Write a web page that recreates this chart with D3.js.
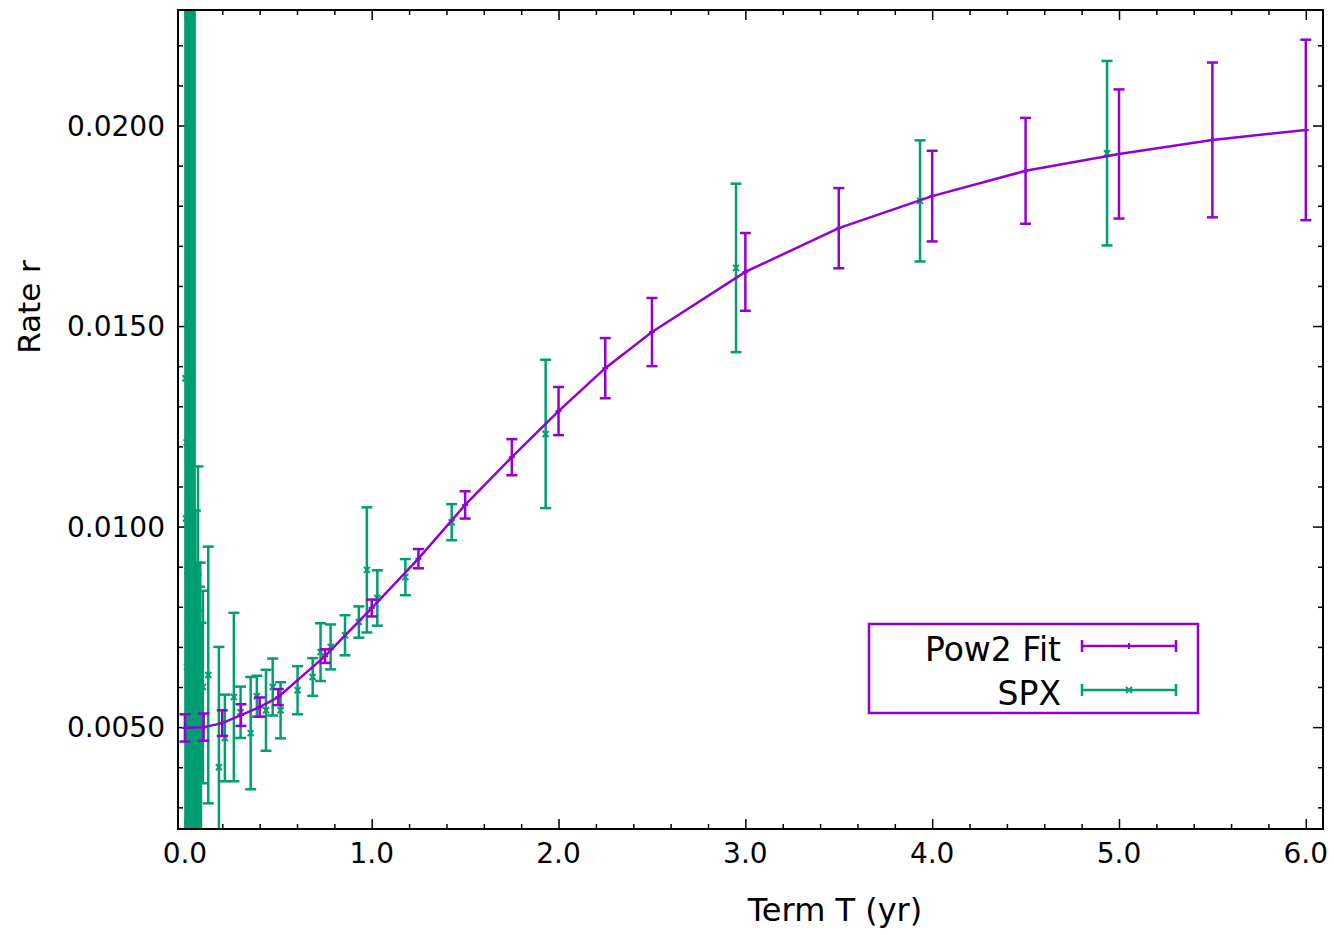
<!DOCTYPE html>
<html lang="en">
<head>
    <meta charset="UTF-8">
    <title>Term structure of rates</title>
    <script src="https://d3js.org/d3.v7.min.js"></script>
    <style>
        body { margin: 0; background: white; }
        text { font-family: "DejaVu Sans", "Liberation Sans", sans-serif; fill: black; }
    </style>
</head>
<body>
    <script>
        // Pow2 fit points (term in years, rate, error)
        var fitT = [0, 0.1, 0.2, 0.3, 0.4, 0.5, 0.75, 1.0, 1.25, 1.5, 1.75, 2.0, 2.25, 2.5, 3.0, 3.5, 4.0, 4.5, 5.0, 5.5, 6.0];
        var fitR = [0.00498, 0.0050, 0.0051, 0.0053, 0.0055, 0.00575, 0.00677, 0.00797, 0.0092, 0.01054, 0.01173, 0.01288,
                    0.01395, 0.01485, 0.01635, 0.01744, 0.01824, 0.01887, 0.01929, 0.01964, 0.01989];
        var fitErr = [0.00034, 0.00034, 0.00032, 0.00027, 0.00024, 0.0002, 0.00017, 0.00021, 0.00024, 0.00034, 0.00045, 0.0006,
                      0.00075, 0.00085, 0.00097, 0.001, 0.00113, 0.00132, 0.00161, 0.00193, 0.00225];

        // SPX implied rates
        var spxT = [0.003, 0.006, 0.009, 0.011, 0.014, 0.017, 0.019, 0.022, 0.025, 0.028, 0.030, 0.033, 0.036, 0.038, 0.041, 0.044,
                    0.047, 0.052, 0.056, 0.060, 0.063, 0.067, 0.070, 0.074, 0.078, 0.082, 0.086, 0.096, 0.125,
                    0.182, 0.214, 0.262, 0.298, 0.352, 0.385, 0.434, 0.470, 0.512, 0.603, 0.684, 0.726, 0.780, 0.857,
                    0.931, 0.974, 1.030, 1.180, 1.428, 1.931, 2.950, 3.935, 4.936];
        var spxR = [0.0137, 0.0102, 0.0121, 0.0065, 0.0089, 0.0030, 0.0110, 0.0075, 0.0052, 0.0094, 0.0040, 0.0118, 0.0068, 0.0085, 0.0103, 0.0058,
                    0.0070, 0.0080, 0.0052, 0.0045, 0.0050, 0.0042, 0.0060, 0.0044, 0.0047, 0.0052, 0.0040, 0.0060, 0.0063,
                    0.0040, 0.00473, 0.00575, 0.00537, 0.00485, 0.00577, 0.00542, 0.0060, 0.00542, 0.00592, 0.00625, 0.00687, 0.0070, 0.00729,
                    0.00762, 0.00892, 0.00822, 0.00874, 0.01011, 0.01231, 0.01645, 0.01812, 0.01931];
        var spxErr = [0.030, 0.026, 0.034, 0.024, 0.028, 0.022, 0.025, 0.021, 0.027, 0.023, 0.024, 0.022, 0.020, 0.019, 0.017, 0.018,
                      0.018, 0.020, 0.0052, 0.0043, 0.0041, 0.0034, 0.0055, 0.0035, 0.0038, 0.0039, 0.0036, 0.0024, 0.0032,
                      0.0030, 0.00108, 0.0021, 0.00064, 0.0014, 0.00051, 0.00101, 0.00071, 0.0007, 0.0006, 0.00047, 0.00072, 0.00056, 0.0005,
                      0.00039, 0.00156, 0.00069, 0.00045, 0.00045, 0.00185, 0.0021, 0.00151, 0.0023];

        var xTicks = [0, 1, 2, 3, 4, 5, 6];
        var yTicks = [0.005, 0.010, 0.015, 0.020];

        var w = 1334, h = 935;
        var plotL = 178, plotR = 1323, plotT = 10, plotB = 829;
        var purple = "#9400d3", green = "#009e73";

        var fitData = fitT.map((t, i) => ({t: t, r: fitR[i], e: fitErr[i]}));
        var spxData = spxT.map((t, i) => ({t: t, r: spxR[i], e: spxErr[i]}));

        var x = d3.scaleLinear().domain([-0.037, 6.092]).range([plotL, plotR]);
        var y = d3.scaleLinear().domain([0.00246, 0.02288]).range([plotB, plotT]);

        var svg = d3.select("body").append("svg")
                    .attr("width", w)
                    .attr("height", h);

        svg.append("defs").append("clipPath").attr("id", "plot")
           .append("rect")
           .attr("x", plotL).attr("y", plotT)
           .attr("width", plotR - plotL).attr("height", plotB - plotT);

        // ticks on all four sides, pointing inward
        function tickAxis(axisFn, scale, pos, values, size) {
            return svg.append("g")
                      .attr("transform", pos)
                      .call(axisFn(scale).tickValues(values).tickSize(-size).tickFormat(""))
                      .call(g => g.select(".domain").remove())
                      .call(g => g.selectAll("line").attr("stroke", "black").attr("stroke-width", 1.5));
        }
        var xMinor = d3.range(0, 6.01, 0.2).map(v => +v.toFixed(1)).filter(v => xTicks.indexOf(v) < 0);
        var yMinor = d3.range(0.003, 0.0226, 0.001).map(v => +v.toFixed(3)).filter(v => yTicks.indexOf(v) < 0);

        tickAxis(d3.axisBottom, x, `translate(0,${plotB})`, xTicks, 10);
        tickAxis(d3.axisBottom, x, `translate(0,${plotB})`, xMinor, 5);
        tickAxis(d3.axisTop, x, `translate(0,${plotT})`, xTicks, 10);
        tickAxis(d3.axisTop, x, `translate(0,${plotT})`, xMinor, 5);
        tickAxis(d3.axisLeft, y, `translate(${plotL},0)`, yTicks, 10);
        tickAxis(d3.axisLeft, y, `translate(${plotL},0)`, yMinor, 5);
        tickAxis(d3.axisRight, y, `translate(${plotR},0)`, yTicks, 10);
        tickAxis(d3.axisRight, y, `translate(${plotR},0)`, yMinor, 5);

        // tick labels
        svg.append("g").selectAll("text")
           .data(xTicks).join("text")
           .attr("x", d => x(d))
           .attr("y", 863)
           .attr("text-anchor", "middle")
           .style("font-size", "28px")
           .text(d3.format(".1f"));

        svg.append("g").selectAll("text")
           .data(yTicks).join("text")
           .attr("x", 165)
           .attr("y", d => y(d) + 10)
           .attr("text-anchor", "end")
           .style("font-size", "28px")
           .text(d3.format(".4f"));

        svg.append("text")
           .attr("x", 835).attr("y", 921)
           .attr("text-anchor", "middle")
           .style("font-size", "32px")
           .text("Term T (yr)");

        svg.append("text")
           .attr("transform", "translate(40,307) rotate(-90)")
           .attr("text-anchor", "middle")
           .style("font-size", "31px")
           .text("Rate r");

        var plot = svg.append("g").attr("clip-path", "url(#plot)");

        function errorBars(g, data, color, marker) {
            var bar = g.append("g").selectAll("g")
                       .data(data).join("g")
                       .attr("stroke", color)
                       .attr("stroke-width", 2.5)
                       .attr("fill", "none");
            bar.append("line")
               .attr("x1", d => x(d.t)).attr("x2", d => x(d.t))
               .attr("y1", d => y(d.r - d.e)).attr("y2", d => y(d.r + d.e));
            bar.append("line")
               .attr("x1", d => x(d.t) - 5.5).attr("x2", d => x(d.t) + 5.5)
               .attr("y1", d => y(d.r - d.e)).attr("y2", d => y(d.r - d.e));
            bar.append("line")
               .attr("x1", d => x(d.t) - 5.5).attr("x2", d => x(d.t) + 5.5)
               .attr("y1", d => y(d.r + d.e)).attr("y2", d => y(d.r + d.e));
            bar.append("path")
               .attr("stroke-width", 2)
               .attr("d", d => marker(x(d.t), y(d.r)));
        }

        var plus = (cx, cy) => `M${cx - 3},${cy}H${cx + 3}M${cx},${cy - 3}V${cy + 3}`;
        var cross = (cx, cy) => `M${cx - 3},${cy - 3}L${cx + 3},${cy + 3}M${cx - 3},${cy + 3}L${cx + 3},${cy - 3}`;

        errorBars(plot, spxData, green, cross);

        plot.append("path")
            .datum(fitData)
            .attr("fill", "none")
            .attr("stroke", purple)
            .attr("stroke-width", 2.5)
            .attr("d", d3.line().x(d => x(d.t)).y(d => y(d.r)));

        errorBars(plot, fitData, purple, plus);

        // frame
        svg.append("rect")
           .attr("x", plotL).attr("y", plotT)
           .attr("width", plotR - plotL).attr("height", plotB - plotT)
           .attr("fill", "none")
           .attr("stroke", "black")
           .attr("stroke-width", 2);

        // legend
        var legend = svg.append("g");
        legend.append("rect")
              .attr("x", 869).attr("y", 624)
              .attr("width", 329).attr("height", 89)
              .attr("fill", "white")
              .attr("stroke", purple)
              .attr("stroke-width", 2.5);

        var keys = [{name: "Pow2 Fit", color: purple, marker: plus, y: 646},
                    {name: "SPX", color: green, marker: cross, y: 690}];
        keys.forEach(function(k) {
            legend.append("text")
                  .attr("x", 1061).attr("y", k.y + 15)
                  .attr("text-anchor", "end")
                  .style("font-size", "33px")
                  .text(k.name);
            var s = legend.append("g").attr("stroke", k.color).attr("stroke-width", 2.5).attr("fill", "none");
            s.append("path").attr("d", `M1082,${k.y}H1176M1082,${k.y - 6}V${k.y + 6}M1176,${k.y - 6}V${k.y + 6}`);
            s.append("path").attr("stroke-width", 2).attr("d", k.marker(1129, k.y));
        });
    </script>
</body>
</html>
